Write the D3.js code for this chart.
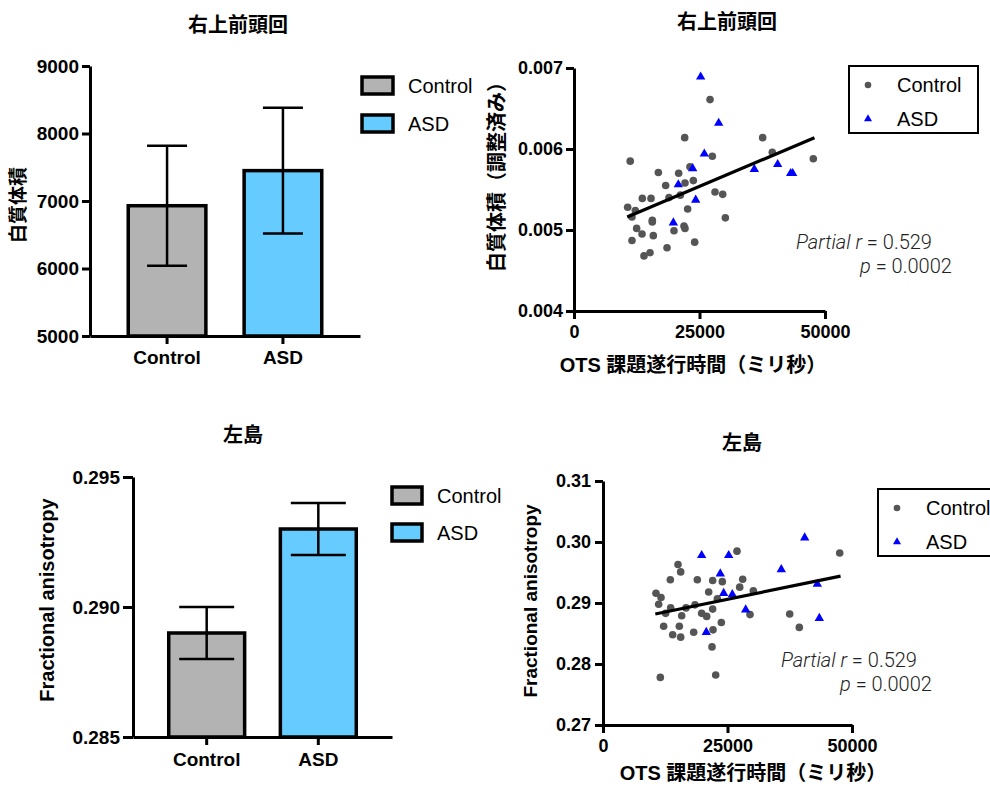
<!DOCTYPE html>
<html>
<head>
<meta charset="utf-8">
<script src="https://cdn.jsdelivr.net/npm/d3@7"></script>
<style>
  body { margin: 0; background: #fff; }
  svg { display: block; font-family: "Liberation Sans", Arial, "Noto Sans CJK JP", sans-serif; }
  .tick text { font-weight: bold; fill: #000; }
  .axis path, .axis line { stroke: #000; stroke-width: 3; }
</style>
</head>
<body>
<div id="chart"></div>
<script>
// groups for the bar charts
const groups = ["Control", "ASD"];

// right superior frontal gyrus - white matter volume (mean, error)
const sfgMean = [6930, 7450];
const sfgErr = [890, 930];

// left insula - fractional anisotropy (mean, error)
const insMean = [0.289, 0.293];
const insErr = [0.001, 0.001];

// scatter: OTS time (ms) vs adjusted white matter volume
const sfgCtrlX = [11200, 16800, 20850, 23100, 22050, 27100, 27550, 37580, 39500, 47670, 18260, 22110, 23770, 13610, 15340, 18920, 21180, 28090, 29620, 10690, 12220, 11550, 22640, 30150, 12480, 15600, 15600, 13550, 15800, 19920, 21910, 22110, 11550, 24040, 18530, 15140, 13940];
const sfgCtrlY = [0.00585, 0.00571, 0.00570, 0.00578, 0.00614, 0.00661, 0.00591, 0.00614, 0.00596, 0.00588, 0.00555, 0.00558, 0.00561, 0.00539, 0.00539, 0.00540, 0.00543, 0.00547, 0.00544, 0.00528, 0.00524, 0.00516, 0.00526, 0.00515, 0.00502, 0.00512, 0.00510, 0.00495, 0.00493, 0.00499, 0.00505, 0.00502, 0.00487, 0.00485, 0.00478, 0.00472, 0.00468];
const sfgAsdX = [25230, 28820, 25960, 23640, 20780, 24240, 19790, 35920, 40570, 43160, 43560];
const sfgAsdY = [0.00689, 0.00632, 0.00594, 0.00576, 0.00556, 0.00537, 0.00509, 0.00575, 0.00581, 0.00570, 0.00570];
const sfgFitX = [10600, 47900];
const sfgFitY = [0.00516, 0.00614];

// scatter: OTS time (ms) vs fractional anisotropy
const insCtrlX = [11510, 22630, 21890, 26910, 47530, 15060, 15600, 13520, 18940, 22020, 23960, 28050, 27450, 30190, 21220, 10640, 11650, 11180, 13590, 16670, 18470, 22960, 12580, 15800, 19810, 20820, 22020, 29520, 37490, 12180, 15330, 23760, 39420, 13990, 15600, 18210, 22090];
const insCtrlY = [0.2778, 0.2782, 0.2828, 0.2985, 0.2982, 0.2963, 0.2951, 0.2938, 0.2938, 0.2937, 0.2935, 0.2939, 0.2926, 0.2920, 0.2918, 0.2916, 0.2909, 0.2898, 0.2892, 0.2892, 0.2897, 0.2907, 0.2883, 0.2879, 0.2883, 0.2878, 0.2890, 0.2881, 0.2882, 0.2862, 0.2862, 0.2868, 0.2860, 0.2848, 0.2844, 0.2852, 0.2856];
const insAsdX = [19810, 25240, 40500, 23550, 35800, 24230, 25970, 43040, 28650, 43440, 20740];
const insAsdY = [0.2978, 0.2978, 0.3007, 0.2948, 0.2955, 0.2916, 0.2914, 0.2931, 0.2889, 0.2875, 0.2852];
const insFitX = [10500, 47700];
const insFitY = [0.2882, 0.2944];

const barFill = ["#b3b3b3", "#66ccff"];
const ctrlColor = "#555555";
const asdColor = "#0000ff";

const svg = d3.select("#chart").append("svg")
  .attr("width", 990)
  .attr("height", 786);

// small helper for plain text
function label(x, y, txt, size, opts = {}) {
  const t = svg.append("text")
    .attr("x", x).attr("y", y)
    .attr("font-size", size)
    .attr("font-weight", opts.weight || "bold")
    .attr("text-anchor", opts.anchor || "middle")
    .attr("fill", opts.fill || "#000")
    .text(txt);
  if (opts.rotate) t.attr("transform", `rotate(-90,${x},${y})`);
  return t;
}

// Bar chart with error bars
function barPanel(p) {
  const x = d3.scaleBand().domain(groups).range([p.x0, p.x1])
    .paddingInner(p.pad).paddingOuter(p.pad);
  const y = d3.scaleLinear().domain(p.domain).range([p.yBot, p.yTop]);
  const g = svg.append("g");

  g.selectAll("rect.bar")
    .data(groups)
    .join("rect")
    .attr("class", "bar")
    .attr("x", d => x(d))
    .attr("width", x.bandwidth())
    .attr("y", (d, i) => y(p.mean[i]))
    .attr("height", (d, i) => y(p.domain[0]) - y(p.mean[i]))
    .attr("fill", (d, i) => barFill[i])
    .attr("stroke", "#000")
    .attr("stroke-width", 3.5);

  // error bars
  groups.forEach((d, i) => {
    const cx = x(d) + x.bandwidth() / 2;
    const lo = y(p.mean[i] - p.err[i]), hi = y(p.mean[i] + p.err[i]);
    g.append("line").attr("x1", cx).attr("x2", cx).attr("y1", lo).attr("y2", hi)
      .attr("stroke", "#000").attr("stroke-width", 2.5);
    [lo, hi].forEach(v => {
      g.append("line").attr("x1", cx - p.cap / 2).attr("x2", cx + p.cap / 2)
        .attr("y1", v).attr("y2", v)
        .attr("stroke", "#000").attr("stroke-width", 2.5);
    });
  });

  g.append("g").attr("class", "axis")
    .attr("transform", `translate(${p.x0},0)`)
    .call(d3.axisLeft(y).tickValues(p.ticks).tickFormat(d3.format(p.fmt))
      .tickSize(p.tick).tickPadding(p.tickPad).tickSizeOuter(0))
    .selectAll("text").attr("font-size", p.fontTick);

  g.append("g").attr("class", "axis")
    .attr("transform", `translate(0,${p.yBot})`)
    .call(d3.axisBottom(x).tickSize(8).tickPadding(p.xPad).tickSizeOuter(0))
    .selectAll("text").attr("font-size", 19);

  label(p.titleX, p.titleY, p.title, 20);
  label(p.yTitleX, p.yTitleY, p.yTitle, p.yTitleSize, { rotate: true });

  // legend
  groups.forEach((d, i) => {
    const ly = p.legY + i * p.legGap;
    svg.append("rect").attr("x", p.legX).attr("y", ly)
      .attr("width", p.legW).attr("height", 17)
      .attr("fill", barFill[i]).attr("stroke", "#000").attr("stroke-width", 3.5);
    label(p.legX + p.legW + 15, ly + 16, d, 20, { weight: "normal", anchor: "start" });
  });
}

// Scatter with regression line
function scatterPanel(p) {
  const x = d3.scaleLinear().domain([0, 50000]).range([p.x0, p.x1]);
  const y = d3.scaleLinear().domain(p.domain).range([p.yBot, p.yTop]);
  const g = svg.append("g");

  g.append("g").attr("class", "axis")
    .attr("transform", `translate(${p.x0},0)`)
    .call(d3.axisLeft(y).tickValues(p.ticks).tickFormat(d3.format(p.fmt))
      .tickSize(8).tickPadding(p.yPad).tickSizeOuter(0))
    .selectAll("text").attr("font-size", p.fontTick);

  g.append("g").attr("class", "axis")
    .attr("transform", `translate(0,${p.yBot})`)
    .call(d3.axisBottom(x).tickValues([0, 25000, 50000]).tickFormat(d3.format("d"))
      .tickSize(8).tickPadding(6).tickSizeOuter(0))
    .selectAll("text").attr("font-size", p.fontTick);

  const ctrl = p.ctrlX.map((v, i) => [v, p.ctrlY[i]]);
  const asd = p.asdX.map((v, i) => [v, p.asdY[i]]);

  g.selectAll("circle.ctrl")
    .data(ctrl)
    .join("circle")
    .attr("class", "ctrl")
    .attr("cx", d => x(d[0]))
    .attr("cy", d => y(d[1]))
    .attr("r", 3.8)
    .attr("fill", ctrlColor);

  const tri = d3.symbol().type(d3.symbolTriangle).size(38);
  g.selectAll("path.asd")
    .data(asd)
    .join("path")
    .attr("class", "asd")
    .attr("transform", d => `translate(${x(d[0])},${y(d[1])})`)
    .attr("d", tri)
    .attr("fill", asdColor);

  g.append("line")
    .attr("x1", x(p.fitX[0])).attr("y1", y(p.fitY[0]))
    .attr("x2", x(p.fitX[1])).attr("y2", y(p.fitY[1]))
    .attr("stroke", "#000").attr("stroke-width", 3.2);

  label(p.titleX, p.titleY, p.title, 20);
  label(p.xTitleX, p.xTitleY, "OTS 課題遂行時間（ミリ秒）", 20);
  label(p.yTitleX, p.yTitleY, p.yTitle, p.yTitleSize, { rotate: true });

  // legend box
  svg.append("rect").attr("x", p.legX).attr("y", p.legY)
    .attr("width", 129).attr("height", 67)
    .attr("fill", "none").attr("stroke", "#000").attr("stroke-width", 2);
  svg.append("circle").attr("cx", p.legX + 19).attr("cy", p.legY + 19)
    .attr("r", 3.3).attr("fill", ctrlColor);
  svg.append("path").attr("d", d3.symbol().type(d3.symbolTriangle).size(28))
    .attr("transform", `translate(${p.legX + 19},${p.legY + 53})`)
    .attr("fill", asdColor);
  label(p.legX + 48, p.legY + 26, "Control", 20, { weight: "normal", anchor: "start" });
  label(p.legX + 48, p.legY + 60, "ASD", 20, { weight: "normal", anchor: "start" });

  // stats annotation
  const a = svg.append("text").attr("x", p.annX).attr("y", p.annY)
    .attr("font-family", "Roboto, 'Liberation Sans', sans-serif")
    .attr("font-weight", 300).attr("font-size", 20).attr("fill", "#222");
  a.append("tspan").attr("font-style", "italic").text("Partial r");
  a.append("tspan").text(" = 0.529");
  const b = svg.append("text").attr("x", p.ann2X).attr("y", p.annY + 24)
    .attr("font-family", "Roboto, 'Liberation Sans', sans-serif")
    .attr("font-weight", 300).attr("font-size", 20).attr("fill", "#222");
  b.append("tspan").attr("font-style", "italic").text("p");
  b.append("tspan").text(" = 0.0002");
}

barPanel({
  x0: 90, x1: 360, yTop: 66, yBot: 336, pad: 0.33,
  domain: [5000, 9000], ticks: [5000, 6000, 7000, 8000, 9000], fmt: "d",
  mean: sfgMean, err: sfgErr, cap: 40,
  tick: 8, tickPad: 3, xPad: 7, fontTick: 19,
  title: "右上前頭回", titleX: 238, titleY: 32,
  yTitle: "白質体積", yTitleX: 25, yTitleY: 205, yTitleSize: 19,
  legX: 362, legY: 77, legW: 31, legGap: 38
});

barPanel({
  x0: 133, x1: 392, yTop: 477, yBot: 737, pad: 0.32,
  domain: [0.285, 0.295], ticks: [0.285, 0.290, 0.295], fmt: ".3f",
  mean: insMean, err: insErr, cap: 55,
  tick: 10, tickPad: 3, xPad: 8, fontTick: 19,
  title: "左島", titleX: 243, titleY: 442,
  yTitle: "Fractional anisotropy", yTitleX: 54, yTitleY: 600, yTitleSize: 20,
  legX: 392, legY: 487, legW: 30, legGap: 37
});

scatterPanel({
  x0: 574, x1: 825, yTop: 68, yBot: 311,
  domain: [0.004, 0.007], ticks: [0.004, 0.005, 0.006, 0.007], fmt: ".3f",
  yPad: 3, fontTick: 18,
  ctrlX: sfgCtrlX, ctrlY: sfgCtrlY, asdX: sfgAsdX, asdY: sfgAsdY,
  fitX: sfgFitX, fitY: sfgFitY,
  title: "右上前頭回", titleX: 727, titleY: 29,
  xTitleX: 693, xTitleY: 372,
  yTitle: "白質体積（調整済み）", yTitleX: 504, yTitleY: 172, yTitleSize: 20,
  legX: 849, legY: 66,
  annX: 796, annY: 249, ann2X: 860
});

scatterPanel({
  x0: 603, x1: 852, yTop: 481, yBot: 725,
  domain: [0.27, 0.31], ticks: [0.27, 0.28, 0.29, 0.30, 0.31], fmt: ".2f",
  yPad: 4, fontTick: 18,
  ctrlX: insCtrlX, ctrlY: insCtrlY, asdX: insAsdX, asdY: insAsdY,
  fitX: insFitX, fitY: insFitY,
  title: "左島", titleX: 742, titleY: 450,
  xTitleX: 753, xTitleY: 780,
  yTitle: "Fractional anisotropy", yTitleX: 537, yTitleY: 601, yTitleSize: 19,
  legX: 878, legY: 489,
  annX: 781, annY: 667, ann2X: 840
});
</script>
</body>
</html>
